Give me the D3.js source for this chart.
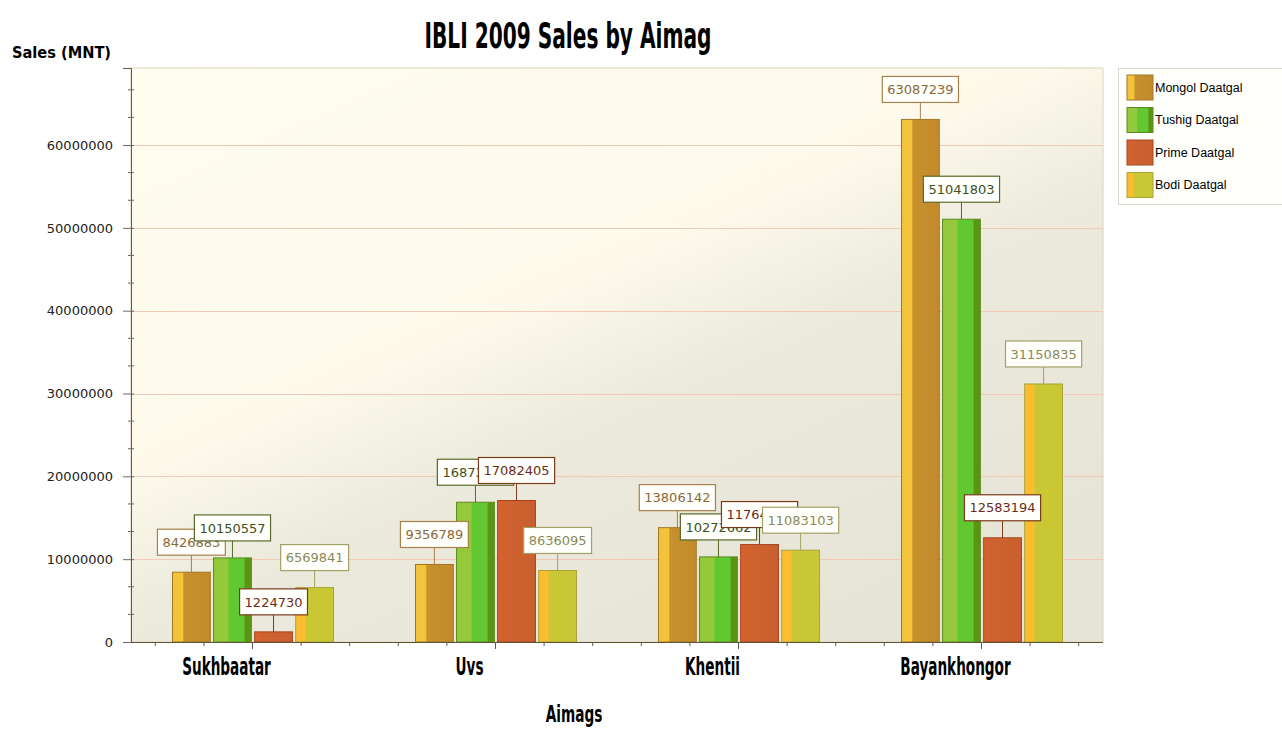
<!DOCTYPE html>
<html><head><meta charset="utf-8">
<script src="https://cdn.jsdelivr.net/npm/d3@7"></script>
<style>body{margin:0;background:#fff}svg{display:block}</style>
</head><body><svg id="c" width="1282" height="730"></svg>
<script>
// ---- data ----
const categories = ["Sukhbaatar", "Uvs", "Khentii", "Bayankhongor"];
const seriesNames = ["Mongol Daatgal", "Tushig Daatgal", "Prime Daatgal", "Bodi Daatgal"];
const mongolDaatgal = [8426883, 9356789, 13806142, 63087239];
const tushigDaatgal = [10150557, 16873214, 10272662, 51041803];
const primeDaatgal  = [1224730, 17082405, 11764375, 12583194];
const bodiDaatgal   = [6569841, 8636095, 11083103, 31150835];
const yTickValues = [0, 10000000, 20000000, 30000000, 40000000, 50000000, 60000000];
const titleText = "IBLI 2009 Sales by Aimag";
const yTitle = "Sales (MNT)";
const xTitle = "Aimags";

const seriesValues = [mongolDaatgal, tushigDaatgal, primeDaatgal, bodiDaatgal];

// ---- styles ----
const styles = [
  {stops:[[0,"#f0c23c"],[0.27,"#f6c43a"],[0.3,"#c8912e"],[1,"#c28a2a"]], stroke:"#a27826", box:"#a8804a", text:"#8a6a38"},
  {stops:[[0,"#93c93b"],[0.38,"#93c93b"],[0.41,"#62c832"],[0.8,"#62c832"],[0.84,"#5a9614"],[1,"#5a9614"]], stroke:"#5d8a1e", box:"#5a6a2a", text:"#3e5026"},
  {stops:[[0,"#e2602e"],[0.12,"#d0622f"],[1,"#c95f2f"]], stroke:"#a8451f", box:"#7a3a1c", text:"#6a2c1a"},
  {stops:[[0,"#fbbd2f"],[0.24,"#fbbd2f"],[0.28,"#c9c834"],[1,"#c9c834"]], stroke:"#a8a43a", box:"#a3a065", text:"#8a8a58"}
];
const condensed = "Liberation Sans Narrow, DejaVu Sans Condensed, sans-serif";

const pL = 131, pR = 1103, pT = 68, pB = 642;
const svg = d3.select("#c");
const defs = svg.append("defs");

styles.forEach((s, i) => {
  const g = defs.append("linearGradient").attr("id", "bar" + i)
    .attr("x1", 0).attr("y1", 0).attr("x2", 1).attr("y2", 0);
  s.stops.forEach(st => g.append("stop").attr("offset", st[0]).attr("stop-color", st[1]));
});
const bg = defs.append("linearGradient").attr("id", "bg")
  .attr("x1", 0).attr("y1", 0).attr("x2", 0.75).attr("y2", 1);
[[0,"#fffcf0"],[0.45,"#fdfaec"],[0.62,"#eceadd"],[1,"#e6e4d6"]].forEach(st =>
  bg.append("stop").attr("offset", st[0]).attr("stop-color", st[1]));

const y = d3.scaleLinear().domain([0, 69300000]).range([pB, pT]);
const x0 = d3.scaleBand().domain(categories).range([pL, pR]).paddingInner(0.3374).paddingOuter(0.1687);
const x1 = d3.scaleBand().domain(seriesNames).range([0, x0.bandwidth()]).paddingInner(0.08);

// plot background
svg.append("rect").attr("x", pL).attr("y", pT).attr("width", pR - pL).attr("height", pB - pT)
  .attr("fill", "url(#bg)").attr("stroke", "#dcd4b8").attr("stroke-width", 1);

// grid
svg.append("g").selectAll("line").data(yTickValues.filter(v => v > 0)).join("line")
  .attr("x1", pL).attr("x2", pR).attr("y1", d => Math.round(y(d)) + 0.5).attr("y2", d => Math.round(y(d)) + 0.5)
  .attr("stroke", "#f0c9b8").attr("stroke-width", 1);

// bars
const flat = [];
categories.forEach((c, ci) => seriesNames.forEach((s, si) => flat.push({c, s, si, v: seriesValues[si][ci]})));
svg.append("g").selectAll("rect").data(flat).join("rect")
  .attr("x", d => x0(d.c) + x1(d.s) + 0.5)
  .attr("y", d => y(d.v))
  .attr("width", x1.bandwidth())
  .attr("height", d => y(0) - y(d.v))
  .attr("fill", d => "url(#bar" + d.si + ")")
  .attr("stroke", d => styles[d.si].stroke).attr("stroke-width", 1);

// y axis
const yAxis = d3.axisLeft(y).tickValues(yTickValues).tickSize(8).tickPadding(10).tickFormat(d3.format("d"));
const yg = svg.append("g").attr("transform", `translate(${pL},0)`).call(yAxis);
yg.select(".domain").attr("stroke", "#5a5a50");
yg.selectAll(".tick line").attr("stroke", "#6a6a60").attr("x2", -8).attr("x1", 3);
yg.selectAll(".tick text").attr("font-family", "DejaVu Sans, Verdana, sans-serif").attr("font-size", 13).attr("fill", "#222");
// minor y ticks
const minor = d3.range(0, 69300000, 10000000 / 3).filter((v, i) => i % 3 !== 0);
svg.append("g").selectAll("line").data(minor).join("line")
  .attr("x1", pL - 3).attr("x2", pL + 3).attr("y1", d => y(d)).attr("y2", d => y(d))
  .attr("stroke", "#6a6a60");

// x axis
svg.append("line").attr("x1", pL).attr("x2", pR).attr("y1", pB + 0.5).attr("y2", pB + 0.5)
  .attr("stroke", "#5c5432").attr("stroke-width", 1.2);
const stepX = (pR - pL) / categories.length;
const xt = [];
categories.forEach((c, ci) => d3.range(5).forEach(k => xt.push({x: pL + ci * stepX + stepX / 10 + k * stepX / 5, major: k === 2})));
svg.append("g").selectAll("line").data(xt).join("line")
  .attr("x1", d => d.x).attr("x2", d => d.x).attr("y1", pB).attr("y2", d => pB + (d.major ? 7 : 4))
  .attr("stroke", "#5a5a50");

// x labels
svg.append("g").selectAll("text").data(categories).join("text")
  .attr("transform", d => `translate(${x0(d) + x0.bandwidth() / 2 - 26},675) scale(0.63,1)`)
  .attr("text-anchor", "middle")
  .attr("font-family", condensed).attr("font-weight", "bold")
  .attr("font-size", 24).attr("fill", "#000").text(d => d);

// data labels
const lab = svg.append("g").selectAll("g").data(flat).join("g")
  .attr("transform", d => `translate(${x0(d.c) + x1(d.s) + x1.bandwidth() / 2 + 0.5},${y(d.v)})`);
lab.append("line").attr("x1", 0).attr("x2", 0).attr("y1", 0).attr("y2", -17).attr("stroke", d => styles[d.si].box);
lab.append("text").attr("text-anchor", "middle").attr("y", -17 - 13).attr("dy", "0.36em")
  .attr("font-family", "DejaVu Sans, Verdana, sans-serif").attr("font-size", 13)
  .attr("fill", d => styles[d.si].text).text(d => d.v);
lab.each(function(d) {
  const g = d3.select(this);
  const t = g.select("text");
  const w = t.node().getComputedTextLength() + 10;
  g.insert("rect", "text").attr("x", -w / 2).attr("y", -17 - 26).attr("width", w).attr("height", 26)
    .attr("fill", "#fffffb").attr("stroke", styles[d.si].box).attr("stroke-width", 1.2);
});

// titles
svg.append("text").attr("x", 568).attr("y", 48).attr("text-anchor", "middle")
  .attr("font-family", condensed).attr("font-weight", "bold")
  .attr("font-size", 36).attr("textLength", 287).attr("lengthAdjust", "spacingAndGlyphs").text(titleText);
svg.append("text").attr("x", 12).attr("y", 58)
  .attr("font-family", condensed).attr("font-weight", "bold")
  .attr("font-size", 16).attr("textLength", 99).attr("lengthAdjust", "spacingAndGlyphs").text(yTitle);
svg.append("text").attr("transform", `translate(${(pL + pR) / 2 - 43},722) scale(0.66,1)`).attr("text-anchor", "middle")
  .attr("font-family", condensed).attr("font-weight", "bold")
  .attr("font-size", 23).text(xTitle);

// legend
const lg = svg.append("g");
lg.append("rect").attr("x", 1118.5).attr("y", 68.5).attr("width", 170).attr("height", 136)
  .attr("fill", "#fffffc").attr("stroke", "#d8d8cc");
const li = lg.selectAll("g").data(seriesNames).join("g")
  .attr("transform", (d, i) => `translate(1127,${75 + i * 32.5})`);
li.append("rect").attr("width", 26).attr("height", 25).attr("fill", (d, i) => "url(#bar" + i + ")")
  .attr("stroke", (d, i) => styles[i].stroke);
li.append("text").attr("x", 28).attr("y", 12.5).attr("dy", "0.35em")
  .attr("font-family", "Liberation Sans, Arial, sans-serif").attr("font-size", 12.5).attr("fill", "#000").text(d => d);
</script></body></html>
